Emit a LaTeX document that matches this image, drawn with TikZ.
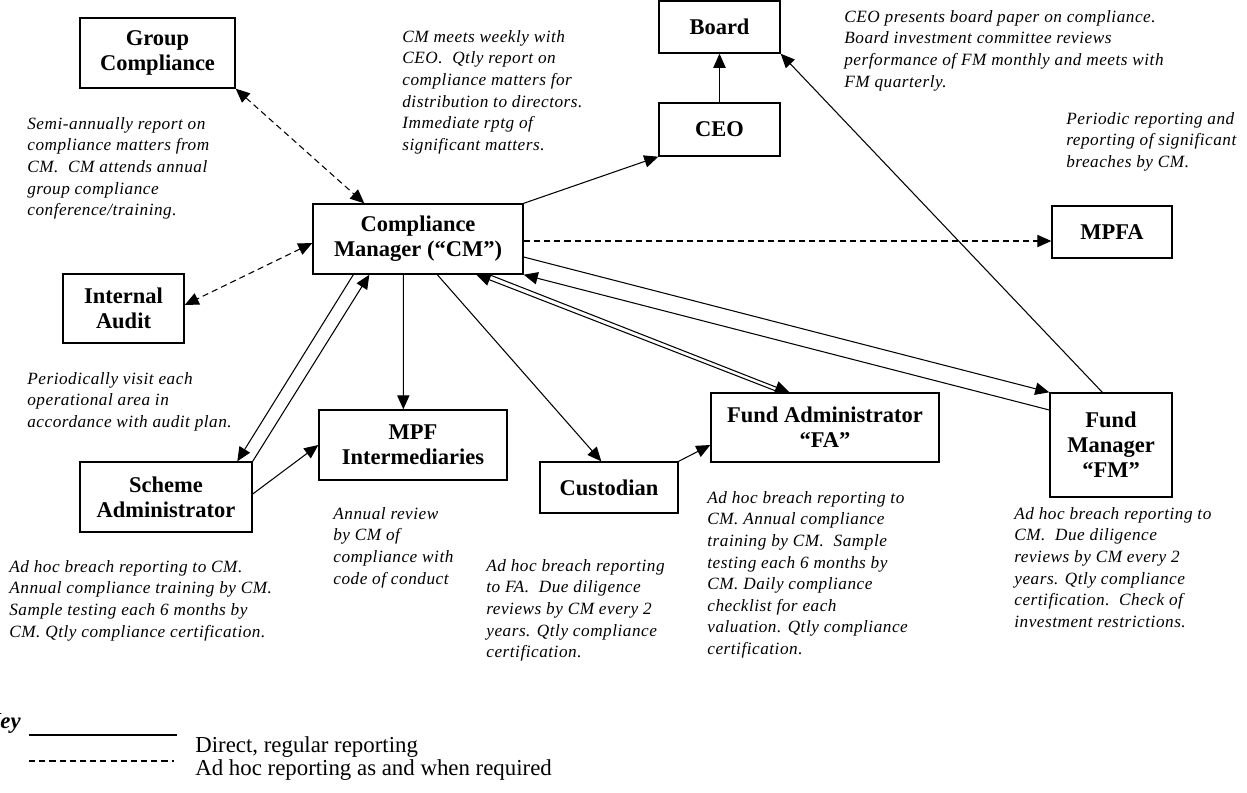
\documentclass[tikz,border=0pt]{standalone}
\usepackage{fontspec}
\setmainfont{Liberation Serif}
\newfontfamily\notefont{Liberation Serif}[LetterSpace=3]
\usetikzlibrary{positioning, arrows.meta, calc}

\begin{document}
\begin{tikzpicture}[x=0.02cm, y=-0.02cm,
    party/.style={rectangle, draw, line width=0.8pt, align=center, inner sep=2pt,
      font=\bfseries\fontsize{12.8}{14.2}\selectfont},
    note/.style={anchor=north west, align=left, inner sep=0pt,
      font=\notefont\itshape\fontsize{9.8}{12.3}\selectfont},
    keytext/.style={anchor=base west, inner sep=0pt, font=\fontsize{13}{15}\selectfont},
    arrow/.style={line width=0.6pt, -{Triangle[length=8pt,width=7pt]}},
    twoway/.style={line width=0.6pt, {Triangle[length=8pt,width=7pt]}-{Triangle[length=8pt,width=7pt]}},
    adhoc/.style={dash pattern=on 3.5pt off 2.3pt}]

    \useasboundingbox (0,0) rectangle (1247,792);

    % Parties
    \node[party, minimum width=3.1cm, minimum height=1.4cm] (gc) at (157.5,53) {Group\\Compliance};
    \node[party, minimum width=2.42cm, minimum height=1.04cm] (board) at (719.5,27) {Board};
    \node[party, minimum width=2.42cm, minimum height=1.06cm] (ceo) at (719.5,129.5) {CEO};
    \node[party, minimum width=4.2cm, minimum height=1.4cm] (cm) at (418,239) {Compliance\\Manager (``CM'')};
    \node[party, minimum width=2.4cm, minimum height=1.04cm] (mpfa) at (1112,232) {MPFA};
    \node[party, minimum width=2.42cm, minimum height=1.38cm] (ia) at (123.5,308.5) {Internal\\Audit};
    \node[party, minimum width=3.76cm, minimum height=1.4cm] (mpf) at (413,445) {MPF\\Intermediaries};
    \node[party, minimum width=3.44cm, minimum height=1.4cm] (sa) at (166,497) {Scheme\\Administrator};
    \node[party, minimum width=2.76cm, minimum height=1.02cm] (cust) at (609,487.5) {Custodian};
    \node[party, minimum width=4.56cm, minimum height=1.38cm] (fa) at (825,427.5) {Fund Administrator\\``FA''};
    \node[party, minimum width=2.44cm, minimum height=2.08cm] (fm) at (1111,445) {Fund\\Manager\\``FM''};

    % Notes
    \node[note] (gcnote) at (27,117) {Semi-annually report on\\compliance matters from\\CM.\ \ CM attends annual\\group compliance\\conference/training.};
    \node[note] (cmnote) at (402,30) {CM meets weekly with\\CEO.\ \ Qtly report on\\compliance matters for\\distribution to directors.\\Immediate rptg of\\significant matters.};
    \node[note] (boardnote) at (844,10) {CEO presents board paper on compliance.\\Board investment committee reviews\\performance of FM monthly and meets with\\FM quarterly.};
    \node[note] (mpfanote) at (1066,112) {Periodic reporting and\\reporting of significant\\breaches by CM.};
    \node[note] (ianote) at (27,372) {Periodically visit each\\operational area in\\accordance with audit plan.};
    \node[note] (sanote) at (9,560) {Ad hoc breach reporting to CM.\\Annual compliance training by CM.\\Sample testing each 6 months by\\CM. Qtly compliance certification.};
    \node[note] (mpfnote) at (333,507) {Annual review\\by CM of\\compliance with\\code of conduct};
    \node[note] (custnote) at (486,559) {Ad hoc breach reporting\\to FA.\ \ Due diligence\\reviews by CM every 2\\years. Qtly compliance\\certification.};
    \node[note] (fanote) at (707,491) {Ad hoc breach reporting to\\CM. Annual compliance\\training by CM.\ \ Sample\\testing each 6 months by\\CM. Daily compliance\\checklist for each\\valuation. Qtly compliance\\certification.};
    \node[note] (fmnote) at (1014,507) {Ad hoc breach reporting to\\CM.\ \ Due diligence\\reviews by CM every 2\\years. Qtly compliance\\certification.\ \ Check of\\investment restrictions.};

    % Reporting lines
    \draw[twoway, adhoc] (gc.south east) -- ($(cm.north west)+(52,0)$);
    \draw[twoway, adhoc] ($(cm.west)+(0,4)$) -- ($(ia.east)+(0,-3.5)$);
    \draw[arrow, adhoc] ($(cm.east)+(0,2)$) -- ($(mpfa.west)+(0,9)$);
    \draw[arrow] (cm.north east) -- (ceo.south west);
    \draw[arrow] (ceo) -- (board);
    \draw[arrow] ($(fm.north west)+(53,0)$) -- (board.south east);
    \draw[arrow] ($(cm.south west)+(41,0)$) -- ($(sa.north west)+(158,0)$);
    \draw[arrow] (sa.north east) -- ($(cm.south west)+(57,0)$);
    \draw[arrow] ($(cm.south west)+(91,0)$) -- ($(mpf.north west)+(85,0)$);
    \draw[arrow] ($(sa.east)+(0,-3)$) -- (mpf.west);
    \draw[arrow] ($(cm.south west)+(125,0)$) -- ($(cust.north west)+(62,0)$);
    \draw[arrow] (cust.north east) -- ($(fa.west)+(0,17.5)$);
    \draw[arrow] ($(cm.south west)+(177,0)$) -- ($(fa.north west)+(79,0)$);
    \draw[arrow] ($(fa.north west)+(69,0)$) -- ($(cm.south west)+(164,0)$);
    \draw[arrow] ($(cm.east)+(0,18)$) -- (fm.north west);
    \draw[arrow] ($(fm.west)+(0,-35)$) -- (cm.south east);

    % Key
    \node[anchor=base east, inner sep=0pt, font=\bfseries\itshape\fontsize{13}{15}\selectfont] (key) at (21,728) {Key};
    \draw[line width=0.6pt] (29,735) -- (177,735);
    \node[keytext] (direct) at (195,752) {Direct, regular reporting};
    \draw[line width=0.6pt, adhoc] (29,761) -- (174,761);
    \node[keytext] (asneeded) at (195,775) {Ad hoc reporting as and when required};
\end{tikzpicture}
\end{document}
